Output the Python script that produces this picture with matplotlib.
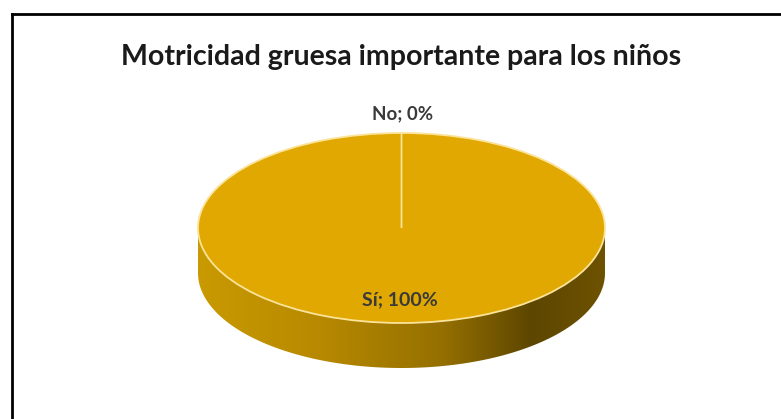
import numpy as np
import matplotlib.pyplot as plt
from matplotlib.patches import Polygon
from matplotlib.colors import LinearSegmentedColormap

# chart data
labels = ["Sí", "No"]
values = [100, 0]
title = "Motricidad gruesa importante para los niños"

W, H = 781, 419
fig = plt.figure(figsize=(W / 100, H / 100), dpi=100)
fig.patch.set_facecolor("white")

# pie axes: top face ellipse spans x 198..605, y 133..323, depth ~45 px
x0, x1 = 198, 605
y_top, y_face_bot, y_bot = 133, 323, 368
d = 2 * (y_bot - y_face_bot) / (y_face_bot - y_top)
ax = fig.add_axes([x0 / W, 1 - y_bot / H, (x1 - x0) / W, (y_bot - y_top) / H])
ax.axis("off")
ax.set_zorder(0)

# side of the cylinder with a horizontal gradient
t = np.linspace(np.pi, 2 * np.pi, 200)
bottom = np.column_stack([np.cos(t), np.sin(t) - d])
top = np.column_stack([np.cos(t[::-1]), np.sin(t[::-1])])
side = Polygon(np.vstack([bottom, top]), closed=True, facecolor="none", edgecolor="none")
ax.add_patch(side)
cmap = LinearSegmentedColormap.from_list(
    "side", [(0, "#c99a00"), (0.3, "#b78900"), (0.6, "#957000"),
             (0.82, "#5d4600"), (1.0, "#6d5200")])
grad = np.linspace(0, 1, 256).reshape(1, -1)
im = ax.imshow(grad, extent=(-1, 1, -1 - d, 0), aspect="auto", cmap=cmap, zorder=1)
im.set_clip_path(side)

# top face
wedges, _ = ax.pie(values, startangle=90, counterclock=False, radius=1,
                   colors=["#e0a800", "#e0a800"],
                   wedgeprops=dict(edgecolor="#fbe39a", linewidth=1.3))
for w in wedges:
    w.set_zorder(2)
ax.set_aspect("auto")
ax.set_xlim(-1, 1)
ax.set_ylim(-1 - d, 1)

# overlay in pixel coordinates: frame, title, data labels
frame = fig.add_axes([0, 0, 1, 1])
frame.set_zorder(1)
frame.set_xlim(0, W)
frame.set_ylim(H, 0)
frame.axis("off")
frame.plot([12, W], [14, 14], color="black", lw=2)
frame.plot([12, 12], [14, H], color="black", lw=2)
frame.text(401, 57, title, ha="center", va="center", fontsize=20.5,
           fontweight="bold", family="Lato", color="#1a1a1a")

frame.text(403, 114, f"{labels[1]}; {values[1]}%", ha="center", va="center",
           fontsize=13.5, fontweight="bold", family="Lato", color="#3a3a3a")
frame.text(400, 300, f"{labels[0]}; {values[0]}%", ha="center", va="center",
           fontsize=14, fontweight="bold", family="Lato", color="#3a3a3a")

fig.savefig("out.png", dpi=100, facecolor="white")
